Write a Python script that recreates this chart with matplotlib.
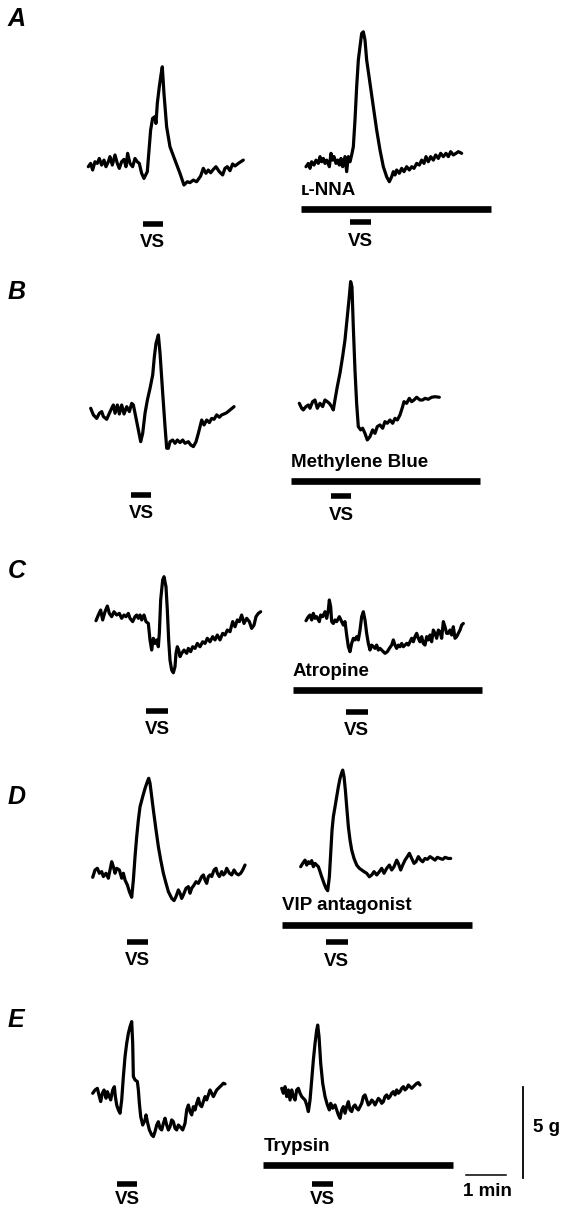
import matplotlib
matplotlib.use('Agg')
import matplotlib.pyplot as plt
from matplotlib import transforms

# tension traces: time (s) from start of trace, tension (g) from starting level
a_ctrl_t = [0, 3.5, 6.5, 10, 13.5, 16.5, 20, 23.5, 26.5, 30, 32.5, 36, 40, 43.5, 46.5, 50, 53.5, 56.5, 59, 62.5,
            66.5, 70, 73.5, 76.5, 80, 83.5, 88.5, 91.5, 93.5, 96.5, 100, 101.5, 103.5, 106.5, 109, 111, 113.5, 117.5,
            122.5, 130, 137.5, 143.5, 148.5, 152.5, 157.5, 162.5, 168.5, 172.5, 176.5, 180, 183.5, 187.5, 191.5,
            196.5, 201.5, 205, 208.5, 212.5, 216.5, 220, 225, 232.5]
a_ctrl_g = [0, 0.18, -0.18, 0.27, 0.18, 0.45, 0.09, 0.36, 0, 0.27, 0.55, 0.09, 0.64, 0.18, -0.09, 0.27, 0.4, 0, 0.73,
            0.18, 0, 0.45, 0.27, 0.18, -0.36, -0.64, -0.27, 1.09, 2.0, 2.64, 2.73, 2.36, 3.45, 4.36, 5.0, 5.45, 4.0,
            2.18, 1.09, 0.36, -0.36, -1.0, -0.82, -0.87, -0.73, -0.82, -0.51, -0.09, -0.36, -0.18, -0.33, -0.15, 0,
            -0.27, -0.45, -0.09, 0, -0.22, 0.15, 0.04, 0.18, 0.36]

a_drug_t = [0, 3.5, 6, 8.5, 12, 15, 18.5, 21, 23.5, 26, 28.5, 31, 35, 37.5, 40, 42, 45, 47.5, 50, 52.5, 55, 58.5, 61,
            63.5, 66, 68.5, 71, 73.5, 76, 78.5, 81, 83.5, 86, 88.5, 91, 96, 101, 106, 111, 116, 121, 125, 128.5, 131,
            133.5, 136, 140, 143.5, 147, 151, 155, 158.5, 162, 166, 170, 173.5, 177, 180, 183.5, 187, 191, 194.5,
            198.5, 202, 206, 210, 213.5, 217, 221, 225, 228.5, 233.5]
a_drug_g = [0, 0.18, -0.09, 0.27, 0.09, 0.36, 0.18, 0.55, 0.27, 0.45, 0.18, 0.36, 0, 0.73, 0.36, 0.55, 0.18, 0.36,
            0.09, 0.45, 0, 0.55, -0.27, 0.55, 0.27, 0.64, 1.09, 2.55, 4.36, 5.82, 6.55, 7.27, 7.36, 6.91, 5.82, 4.55,
            3.27, 2.0, 0.91, 0, -0.55, -0.82, -0.55, -0.27, -0.45, -0.18, -0.36, -0.09, -0.27, 0, -0.18, 0, -0.09,
            0.18, 0.09, 0.36, 0.18, 0.55, 0.27, 0.55, 0.36, 0.64, 0.45, 0.73, 0.55, 0.73, 0.55, 0.82, 0.64, 0.73,
            0.82, 0.73]

b_ctrl_t = [0, 4, 9, 13, 16.5, 19, 24, 28, 31.5, 34, 36.5, 40, 43, 46.5, 50, 54, 58, 61.5, 64, 67.5, 71.5, 75, 78,
            81.5, 85, 89, 93, 95.5, 98, 101.5, 104, 108, 111.5, 114, 116.5, 119, 123, 126.5, 130, 134, 138, 141.5,
            146.5, 150, 154, 158, 161.5, 164, 166.5, 170, 174, 178, 181.5, 185, 189, 193, 196.5, 200, 204, 209, 215]
b_ctrl_g = [0, -0.36, -0.55, -0.27, -0.18, -0.45, -0.6, -0.27, 0, 0.18, -0.27, 0.18, -0.31, 0.18, -0.31, 0.09, -0.18,
            0.27, 0.18, -0.45, -1.18, -1.82, -1.36, -0.27, 0.45, 1.09, 1.82, 2.82, 3.55, 4.0, 3.0, 0.82, -1.0, -2.18,
            -2.18, -1.82, -1.73, -1.91, -1.73, -1.87, -1.73, -1.91, -1.82, -2.0, -2.09, -1.82, -1.36, -1.0, -0.64,
            -0.91, -0.64, -0.78, -0.55, -0.6, -0.36, -0.49, -0.36, -0.31, -0.24, -0.09, 0.09]

b_drug_t = [0, 3.5, 6, 10, 13.5, 16, 20, 23.5, 27, 31, 35, 38.5, 42, 45, 48.5, 51, 53.5, 57, 61, 65, 68.5, 72, 75, 77,
            79, 81, 83.5, 86, 88.5, 92, 95, 98.5, 102, 106, 110, 113.5, 117, 121, 125, 128.5, 132, 136, 140, 143.5,
            147, 151, 155, 157, 161, 165, 168.5, 172, 176, 181, 185, 188.5, 193.5, 198.5, 203.5, 210]
b_drug_g = [0, -0.27, -0.36, -0.18, -0.09, -0.27, 0.09, 0.18, -0.27, 0, -0.18, 0.18, 0.09, 0, -0.18, -0.36, 0.18,
            0.91, 1.64, 2.55, 3.45, 4.73, 5.82, 6.64, 6.36, 4.18, 1.82, 0, -1.27, -1.45, -1.36, -1.64, -2.0, -1.82,
            -1.45, -1.64, -1.27, -1.18, -1.36, -1.0, -1.09, -0.91, -1.09, -0.82, -0.91, -0.64, -0.18, 0.09, 0, 0.27,
            0.09, 0.18, 0.33, 0.18, 0.18, 0.27, 0.22, 0.33, 0.36, 0.33]

c_ctrl_t = [0, 3.5, 7, 10, 13.5, 17, 20, 23.5, 27, 31, 35, 38.5, 42, 45, 48.5, 51, 55, 58.5, 61, 63.5, 66, 68.5, 72,
            75, 78.5, 81, 83.5, 86, 88.5, 91, 93.5, 95, 97, 100, 102, 105, 107, 109, 111, 113.5, 116, 118.5, 120, 122,
            124, 126, 128.5, 132, 136, 138.5, 142, 145, 148.5, 152, 156, 160, 163.5, 167, 171, 175, 178.5, 182, 186,
            190, 193.5, 197, 201, 205, 208.5, 212, 215, 218.5, 222, 226, 230, 233.5, 237, 240, 243.5, 247]
c_ctrl_g = [0, 0.31, 0.58, 0.04, 0.49, 0.8, 0.4, 0.22, 0.49, 0.31, 0.4, 0.13, 0.31, 0.22, 0.4, 0.13, -0.05, 0.22,
            0.31, 0.13, 0.31, 0.04, 0.31, -0.05, -0.15, -1.05, -1.6, -0.96, -1.24, -1.05, -1.42, -0.69, 1.13, 2.22,
            2.4, 1.85, 0.58, -1.05, -2.15, -2.69, -2.84, -2.51, -1.78, -1.42, -1.6, -1.96, -1.78, -1.6, -1.78, -1.51,
            -1.69, -1.42, -1.51, -1.24, -1.42, -1.15, -1.24, -0.96, -1.15, -0.87, -1.05, -0.78, -1.05, -0.69, -0.78,
            -0.51, -0.6, -0.05, -0.33, 0.04, -0.05, 0.31, -0.15, 0.13, -0.05, -0.42, -0.24, 0.22, 0.4, 0.49]

c_drug_t = [0, 3.5, 6, 8.5, 11, 13.5, 16, 20, 22, 25, 28.5, 31, 33.5, 35, 37, 38.5, 41, 43.5, 46, 50, 53.5, 56, 58.5,
            61, 63.5, 66, 68.5, 71, 73.5, 76, 78.5, 81, 83.5, 86, 88.5, 91, 93.5, 96, 98.5, 101, 103.5, 106, 108.5,
            111, 113.5, 116, 118.5, 122, 125, 128.5, 131, 133.5, 136, 138.5, 141, 143.5, 146, 148.5, 151, 153.5, 156,
            158.5, 161, 163.5, 166, 168.5, 171, 173.5, 176, 178.5, 181, 183.5, 186, 188.5, 191, 193.5, 196, 198.5,
            201, 203.5, 206, 208.5, 211, 213.5, 216, 218.5, 221, 223.5, 226, 228.5, 231, 233.5, 236]
c_drug_g = [0, 0.22, 0.31, 0.04, 0.4, 0.13, 0.22, -0.05, 0.31, 0.22, 0.49, 0.13, 0.58, 1.13, 0.76, -0.05, -0.15, 0.04,
            -0.05, 0.22, -0.05, -0.24, -0.05, -0.78, -1.42, -1.69, -1.24, -0.96, -1.05, -0.87, -1.05, -0.51, 0.22,
            0.49, 0.04, -0.69, -1.24, -1.6, -1.33, -1.42, -1.51, -1.33, -1.6, -1.51, -1.6, -1.69, -1.78, -1.69, -1.51,
            -1.33, -1.05, -1.33, -1.51, -1.33, -1.42, -1.24, -1.42, -1.33, -1.24, -1.33, -1.15, -0.96, -1.15, -0.87,
            -0.69, -0.96, -1.15, -0.87, -1.24, -1.33, -0.87, -1.05, -0.78, -1.15, -0.51, -0.69, -0.96, -0.51, -0.6,
            -0.96, -0.05, -0.33, -0.69, -0.69, -0.51, -0.78, -0.33, -0.96, -0.87, -0.69, -0.51, -0.24, -0.15]

d_ctrl_t = [0, 3.5, 7, 10, 13.5, 16, 20, 23.5, 26, 28.5, 31, 33.5, 36, 40, 43.5, 46, 48.5, 52, 55, 58.5, 61, 63.5, 66,
            68.5, 71, 75, 78.5, 82, 84, 86, 88.5, 91, 95, 98.5, 102, 106, 110, 113.5, 118.5, 122, 125, 128.5, 131,
            133.5, 136, 140, 143.5, 146, 148.5, 152, 155, 158.5, 161, 163.5, 166, 168.5, 171, 173.5, 176, 178.5, 182,
            185, 187, 190, 193.5, 196, 198.5, 201, 205, 208.5, 212, 215, 218.5, 222, 225, 228.5]
d_ctrl_g = [0, 0.4, 0.49, 0.22, 0.31, 0.04, 0.22, -0.05, 0.4, 0.85, 0.58, 0.22, 0.49, 0.4, -0.05, 0.22, -0.15, -0.42,
            -0.78, -1.09, -0.15, 1.13, 2.22, 3.13, 3.85, 4.4, 4.85, 5.22, 5.4, 5.13, 4.4, 3.67, 2.58, 1.67, 0.95, 0.22,
            -0.33, -0.78, -1.15, -1.27, -1.05, -0.69, -0.87, -1.15, -0.96, -0.6, -0.51, -0.87, -0.6, -0.42, -0.24,
            -0.33, -0.15, 0.04, 0.13, -0.15, -0.33, 0.04, 0.13, 0.04, 0.4, 0.49, 0.22, 0.04, 0.31, 0.13, 0.22, 0.49,
            0.22, 0.13, 0.4, 0.22, 0.13, 0.22, 0.4, 0.67]

d_drug_t = [0, 3, 6.5, 9, 11.5, 14, 16.5, 19, 21.5, 24, 26.5, 29, 31.5, 35, 38, 40.5, 43, 45, 47, 49, 51.5, 54, 56.5,
            59, 61.5, 63, 65, 67, 69, 71.5, 74, 76.5, 80, 84, 88, 91.5, 95, 99, 103, 106.5, 110, 114, 118, 121.5, 125,
            129, 133, 136.5, 140, 144, 146.5, 150, 153, 156.5, 160, 163, 166.5, 170, 173, 176.5, 180, 183, 186.5, 190,
            194, 198, 201.5, 205, 209, 213, 216.5, 221.5, 225]
d_drug_g = [0, 0.18, 0.36, 0.09, 0.27, 0.18, 0.33, 0, 0.18, 0.09, 0, -0.27, -0.55, -0.91, -1.18, -1.31, -0.55, 0.73,
            2.0, 2.73, 3.27, 3.82, 4.36, 4.82, 5.13, 5.27, 4.91, 4.18, 3.27, 2.18, 1.45, 0.91, 0.45, 0.09, -0.09,
            -0.18, -0.27, -0.36, -0.55, -0.45, -0.27, -0.45, -0.27, -0.09, -0.36, -0.09, 0.09, -0.18, 0, 0.36, 0.18,
            -0.18, 0.09, 0.36, 0.55, 0.73, 0.45, 0.18, 0.27, 0.55, 0.36, 0.27, 0.45, 0.4, 0.55, 0.45, 0.36, 0.51,
            0.45, 0.4, 0.51, 0.45, 0.45]

e_ctrl_t = [0, 3.5, 7, 10, 12, 14.5, 17, 20, 22, 25, 27, 30, 32.5, 34, 36, 38.5, 41, 43.5, 46, 48.5, 51, 53.5, 56,
            58.5, 60, 61, 63.5, 67, 68.5, 70, 72, 75, 78.5, 80, 82, 85, 88.5, 91, 93.5, 96, 98.5, 101, 103.5, 106,
            108.5, 111, 113.5, 116, 118.5, 121, 123.5, 126, 128.5, 131, 135, 138.5, 141, 143.5, 146, 148.5, 151,
            153.5, 156, 158.5, 161, 163.5, 166, 168.5, 171, 173.5, 176, 178.5, 181, 183.5, 186, 188.5, 191, 193.5,
            196, 198.5]
e_ctrl_g = [0, 0.18, 0.27, -0.18, -0.45, 0, 0.18, -0.27, 0.09, -0.18, -0.36, 0.18, 0.36, -0.18, -0.64, -0.91, -1.09,
            -0.36, 0.91, 2.0, 2.73, 3.27, 3.64, 3.91, 2.73, 0.91, 0.73, 0.64, 0.18, -0.55, -1.27, -1.73, -1.45, -1.18,
            -1.55, -2.0, -2.27, -2.36, -2.09, -1.73, -1.55, -1.91, -2.0, -1.64, -1.36, -1.73, -2.0, -1.82, -1.45,
            -1.55, -1.91, -2.0, -1.73, -1.82, -2.0, -1.64, -0.91, -0.64, -1.0, -1.18, -0.73, -0.91, -0.55, -0.27,
            -0.64, -0.73, -0.45, -0.18, -0.36, -0.09, 0.18, 0, -0.18, 0, 0.18, 0.27, 0.36, 0.45, 0.55, 0.51]

e_drug_t = [0, 2.5, 5, 7.5, 10, 12.5, 15, 17.5, 20, 22.5, 25, 27.5, 30, 32.5, 35, 37.5, 40, 42.5, 45, 47.5, 50, 52.5,
            54, 56, 58.5, 61.5, 65, 68.5, 71.5, 73.5, 76.5, 80, 82.5, 85, 87.5, 90, 92.5, 95, 97.5, 100, 102.5, 105,
            107.5, 110, 112.5, 115, 117.5, 120, 122.5, 125, 127.5, 130, 132.5, 135, 137.5, 140, 142.5, 145, 147.5,
            150, 152.5, 155, 157.5, 160, 162.5, 165, 167.5, 170, 172.5, 175, 177.5, 180, 182.5, 185, 187.5, 190,
            192.5, 195, 197.5, 200, 202.5, 205, 207.5]
e_drug_g = [0, -0.27, 0.09, -0.45, -0.09, -0.64, -0.09, -0.45, -0.64, -0.09, 0, -0.27, -0.45, -0.55, -0.64, -0.91,
            -1.27, -0.64, 0.45, 1.55, 2.45, 3.18, 3.45, 2.82, 1.36, 0.27, -0.45, -0.91, -1.18, -0.82, -1.09, -0.91,
            -1.18, -1.45, -1.64, -1.18, -1.0, -1.36, -1.0, -0.73, -1.18, -1.27, -1.0, -0.91, -1.09, -1.18, -1.0,
            -0.82, -0.45, -0.36, -0.64, -0.91, -0.82, -0.64, -0.73, -0.91, -0.73, -0.55, -0.64, -0.82, -0.73, -0.45,
            -0.36, -0.55, -0.45, -0.27, -0.18, -0.36, -0.09, -0.27, -0.18, 0, 0.09, -0.09, 0, 0.18, 0.09, 0, 0.09,
            0.18, 0.27, 0.31, 0.18]

# vagal stimulation periods (s) and drug application periods (s)
vs_periods = [[81.5, 111.5], [66, 97], [60.5, 90.5], [47.5, 77.5], [75, 108.5],
              [60, 92.5], [51, 83.5], [38, 70.5], [36, 67], [45, 76.5]]
drug_periods = [[-8, 277], [-13, 271], [-20, 263.5], [-28.5, 256.5], [-27.5, 257.5]]
drug_names = ['ʟ-NNA', 'Methylene Blue', 'Atropine', 'VIP antagonist', 'Trypsin']
panel_letters = ['A', 'B', 'C', 'D', 'E']
scale_time = 60      # s  -> "1 min"
scale_tension = 5    # g  -> "5 g"

# layout in pixels
W, H = 564, 1209
S_PX = 1 / 1.5       # px per second
G_PX = 18.33         # px per gram
origins = [(88.3, 166.7), (306, 166.7), (90.7, 408.3), (299.3, 403.3), (96, 620.7),
           (306, 620.7), (92.7, 877.3), (300.7, 866.7), (92.7, 1093.3), (281.7, 1088.3)]
vs_y = [223.5, 222, 494.5, 496, 711, 711.7, 941.7, 942.3, 1184, 1184]
vs_label_dy = [19, 19, 19, 19, 19, 19, 19, 19, 16, 16]
drug_y = [209, 481, 690, 924.5, 1165]
letter_y = [19, 292, 571, 797, 1020]

FONT = ['Liberation Sans', 'DejaVu Sans']
FS = 13.5

fig = plt.figure(figsize=(W / 100, H / 100), dpi=100)
ax = fig.add_axes([0, 0, 1, 1])
ax.set_xlim(0, W)
ax.set_ylim(H, 0)
ax.axis('off')


def trace_tr(x0, y0):
    return transforms.Affine2D().scale(S_PX, -G_PX).translate(x0, y0) + ax.transData


def time_tr(x0):
    xt = transforms.Affine2D().scale(S_PX, 1).translate(x0, 0) + ax.transData
    return transforms.blended_transform_factory(xt, ax.transData)


traces = [(a_ctrl_t, a_ctrl_g), (a_drug_t, a_drug_g), (b_ctrl_t, b_ctrl_g), (b_drug_t, b_drug_g),
          (c_ctrl_t, c_ctrl_g), (c_drug_t, c_drug_g), (d_ctrl_t, d_ctrl_g), (d_drug_t, d_drug_g),
          (e_ctrl_t, e_ctrl_g), (e_drug_t, e_drug_g)]

for i, (t, g) in enumerate(traces):
    x0, y0 = origins[i]
    ax.plot(t, g, color='black', lw=2.3, solid_joinstyle='round', solid_capstyle='round',
            transform=trace_tr(x0, y0))
    tt = time_tr(x0)
    vs = vs_periods[i]
    ax.plot(vs, [vs_y[i], vs_y[i]], color='black', lw=4, solid_capstyle='butt', transform=tt)
    ax.text((vs[0] + vs[1]) / 2, vs_y[i] + vs_label_dy[i], 'VS', transform=tt, ha='center', va='center',
            fontsize=FS, fontweight='bold', family=FONT)
    if i % 2 == 1:
        k = i // 2
        dp = drug_periods[k]
        ax.plot(dp, [drug_y[k], drug_y[k]], color='black', lw=4.8, solid_capstyle='butt', transform=tt)
        ax.text(dp[0], drug_y[k] - 18.5, drug_names[k], transform=tt, ha='left', va='center',
                fontsize=FS, fontweight='bold', family=FONT)

for k, letter in enumerate(panel_letters):
    ax.text(8, letter_y[k], letter, ha='left', va='center', fontsize=18, fontstyle='italic',
            fontweight='bold', family=FONT)

# calibration bars
ax.plot([0, scale_time], [0, 0], color='black', lw=1.1, transform=trace_tr(466, 1175))
ax.plot([0, 0], [0, scale_tension], color='black', lw=1.3, transform=trace_tr(522.7, 1178.3))
ax.text(487, 1192, '1 min', ha='center', va='center', fontsize=FS, fontweight='bold', family=FONT)
ax.text(533, 1128, '5 g', ha='left', va='center', fontsize=FS, fontweight='bold', family=FONT)

fig.savefig('out.png', dpi=100)
